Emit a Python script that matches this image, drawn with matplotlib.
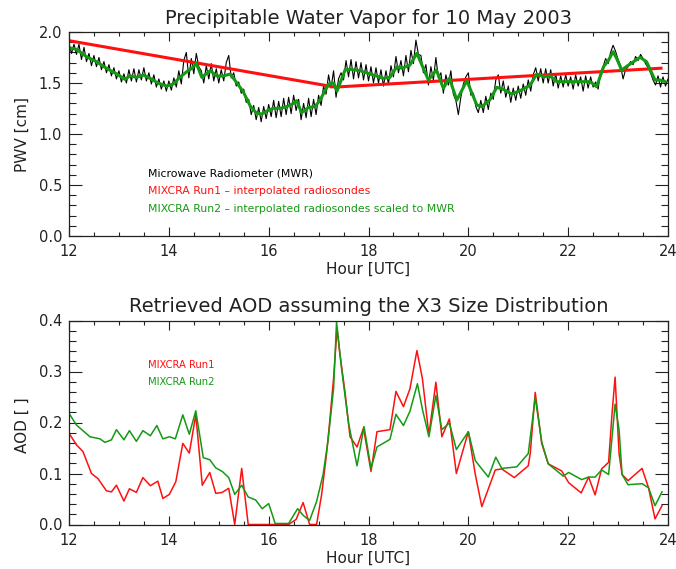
import numpy as np
import matplotlib
matplotlib.use("Agg")
import matplotlib.pyplot as plt
from matplotlib.ticker import MultipleLocator

# --- PWV panel data ---
mwr_start, mwr_step = 12.0, 0.05  # MWR samples every 3 minutes
mwr_pwv = [
    1.89, 1.79, 1.88, 1.78, 1.88, 1.73, 1.85, 1.71, 1.79, 1.67,
    1.77, 1.66, 1.75, 1.63, 1.71, 1.60, 1.68, 1.57, 1.65, 1.54,
    1.62, 1.51, 1.59, 1.50, 1.63, 1.52, 1.64, 1.51, 1.63, 1.53,
    1.65, 1.52, 1.60, 1.49, 1.58, 1.46, 1.54, 1.44, 1.52, 1.42,
    1.52, 1.43, 1.55, 1.46, 1.62, 1.49, 1.72, 1.80, 1.55, 1.74,
    1.59, 1.79, 1.66, 1.62, 1.50, 1.67, 1.54, 1.69, 1.52, 1.64,
    1.50, 1.63, 1.52, 1.70, 1.77, 1.55, 1.60, 1.47, 1.51, 1.40,
    1.44, 1.31, 1.34, 1.19, 1.28, 1.14, 1.26, 1.12, 1.27, 1.15,
    1.29, 1.17, 1.33, 1.16, 1.32, 1.17, 1.35, 1.19, 1.36, 1.20,
    1.38, 1.23, 1.34, 1.14, 1.30, 1.16, 1.35, 1.17, 1.34, 1.19,
    1.38, 1.28, 1.47, 1.39, 1.58, 1.45, 1.62, 1.36, 1.54, 1.60,
    1.53, 1.72, 1.56, 1.73, 1.54, 1.71, 1.55, 1.70, 1.53, 1.68,
    1.52, 1.66, 1.50, 1.65, 1.50, 1.63, 1.47, 1.62, 1.49, 1.67,
    1.56, 1.76, 1.60, 1.72, 1.57, 1.77, 1.61, 1.82, 1.69, 1.92,
    1.78, 1.77, 1.60, 1.68, 1.48, 1.66, 1.53, 1.75, 1.55, 1.60,
    1.40, 1.58, 1.48, 1.62, 1.39, 1.33, 1.19, 1.36, 1.49, 1.56,
    1.60, 1.38, 1.40, 1.27, 1.21, 1.33, 1.21, 1.37, 1.24, 1.40,
    1.34, 1.53, 1.58, 1.40, 1.52, 1.36, 1.47, 1.31, 1.45, 1.33,
    1.47, 1.35, 1.49, 1.38, 1.53, 1.42, 1.58, 1.65, 1.52, 1.64,
    1.50, 1.64, 1.50, 1.63, 1.47, 1.59, 1.45, 1.57, 1.46, 1.58,
    1.47, 1.56, 1.44, 1.58, 1.47, 1.56, 1.42, 1.57, 1.45, 1.56,
    1.46, 1.51, 1.44, 1.61, 1.66, 1.74, 1.69, 1.80, 1.87, 1.81,
    1.73, 1.67, 1.54, 1.63, 1.66, 1.71, 1.68, 1.76, 1.72, 1.78,
    1.74, 1.69, 1.65, 1.60, 1.53, 1.48, 1.57, 1.46, 1.56, 1.47,
    1.54,
]

run1_hours = [12.0, 17.33, 23.86]
run1_pwv = [1.915, 1.46, 1.645]

run2_hours = [12.0, 12.15, 12.35, 12.55, 12.75, 12.96, 13.12, 13.22, 13.36, 13.49,
              13.66, 13.79, 13.96, 14.09, 14.22, 14.36, 14.46, 14.55, 14.66, 14.83,
              14.96, 15.09, 15.23, 15.36, 15.49, 15.63, 15.76, 15.86, 15.96, 16.09,
              16.23, 16.36, 16.5, 16.56, 16.66, 16.8, 16.93, 17.03, 17.2, 17.3,
              17.37, 17.53, 17.63, 17.83, 18.03, 18.3, 18.43, 18.57, 18.67, 18.83,
              18.97, 19.07, 19.2, 19.36, 19.5, 19.62, 19.77, 19.97, 20.17, 20.27,
              20.43, 20.57, 20.7, 20.87, 21.04, 21.24, 21.37, 21.51, 21.64, 21.77,
              22.04, 22.31, 22.44, 22.57, 22.71, 22.81, 22.9, 22.97, 23.07, 23.21,
              23.44, 23.57, 23.74, 23.84, 23.94]
run2_pwv = [1.846, 1.83, 1.758, 1.709, 1.644, 1.588, 1.536, 1.569, 1.556, 1.578,
            1.536, 1.497, 1.471, 1.49, 1.556, 1.611, 1.644, 1.693, 1.556, 1.621,
            1.569, 1.569, 1.588, 1.503, 1.415, 1.275, 1.203, 1.196, 1.225, 1.252,
            1.252, 1.268, 1.301, 1.327, 1.209, 1.261, 1.268, 1.333, 1.49, 1.50,
            1.42, 1.627, 1.634, 1.621, 1.588, 1.546, 1.556, 1.66, 1.644, 1.676,
            1.791, 1.676, 1.529, 1.627, 1.448, 1.546, 1.333, 1.523, 1.284, 1.268,
            1.333, 1.458, 1.438, 1.392, 1.425, 1.48, 1.588, 1.562, 1.569, 1.513,
            1.513, 1.513, 1.513, 1.464, 1.66, 1.725, 1.807, 1.742, 1.627, 1.676,
            1.752, 1.709, 1.529, 1.529, 1.513]

# --- AOD panel data ---
aod1_hours = [12.0, 12.15, 12.28, 12.45, 12.58, 12.75, 12.85, 12.95, 13.1, 13.21,
              13.35, 13.48, 13.63, 13.78, 13.88, 14.01, 14.14, 14.28, 14.41, 14.54,
              14.67, 14.82, 14.94, 15.07, 15.2, 15.32, 15.46, 15.59, 15.74, 15.87,
              16.0, 16.13, 16.27, 16.4, 16.55, 16.69, 16.82, 16.96, 17.06, 17.16,
              17.22, 17.3, 17.37, 17.42, 17.53, 17.63, 17.77, 17.9, 18.05, 18.17,
              18.43, 18.55, 18.7, 18.83, 18.97, 19.08, 19.21, 19.35, 19.47, 19.62,
              19.76, 20.0, 20.14, 20.27, 20.54, 20.67, 20.92, 21.2, 21.24, 21.34,
              21.47, 21.6, 21.87, 22.01, 22.26, 22.41, 22.54, 22.67, 22.81, 22.88,
              22.94, 23.02, 23.08, 23.2, 23.48, 23.61, 23.74, 23.88]
aod1 = [0.179, 0.156, 0.143, 0.10, 0.09, 0.066, 0.064, 0.077, 0.046, 0.07,
        0.063, 0.092, 0.076, 0.085, 0.051, 0.059, 0.084, 0.159, 0.140, 0.215,
        0.077, 0.102, 0.061, 0.063, 0.071, 0.0, 0.11, 0.0, 0.0, 0.0,
        0.0, 0.0, 0.0, 0.0, 0.01, 0.043, 0.0, 0.0, 0.058, 0.139,
        0.199, 0.286, 0.385, 0.34, 0.259, 0.172, 0.152, 0.189, 0.104, 0.182,
        0.186, 0.261, 0.231, 0.266, 0.341, 0.286, 0.176, 0.279, 0.172, 0.207,
        0.10, 0.182, 0.098, 0.035, 0.107, 0.109, 0.092, 0.115, 0.139, 0.259,
        0.159, 0.119, 0.105, 0.082, 0.062, 0.093, 0.058, 0.109, 0.122, 0.219,
        0.289, 0.139, 0.098, 0.086, 0.11, 0.072, 0.011, 0.037]

aod2_hours = [12.0, 12.15, 12.42, 12.62, 12.72, 12.85, 12.95, 13.1, 13.21, 13.35,
              13.48, 13.63, 13.76, 13.88, 14.01, 14.13, 14.28, 14.41, 14.54, 14.69,
              14.82, 14.94, 15.07, 15.2, 15.32, 15.46, 15.59, 15.74, 15.87, 16.0,
              16.13, 16.27, 16.4, 16.58, 16.69, 16.82, 16.96, 17.09, 17.19, 17.3,
              17.36, 17.46, 17.6, 17.77, 17.91, 18.05, 18.17, 18.43, 18.55, 18.7,
              18.83, 18.98, 19.08, 19.21, 19.35, 19.47, 19.62, 19.76, 20.0, 20.14,
              20.4, 20.55, 20.67, 20.97, 21.2, 21.34, 21.47, 21.6, 21.9, 22.01,
              22.27, 22.41, 22.54, 22.67, 22.81, 22.88, 22.94, 23.02, 23.08, 23.2,
              23.48, 23.61, 23.74, 23.88]
aod2 = [0.218, 0.195, 0.172, 0.168, 0.161, 0.166, 0.186, 0.166, 0.184, 0.163,
        0.184, 0.174, 0.194, 0.168, 0.172, 0.168, 0.215, 0.177, 0.223, 0.131,
        0.127, 0.111, 0.104, 0.092, 0.059, 0.077, 0.054, 0.048, 0.031, 0.041,
        0.002, 0.002, 0.002, 0.031, 0.018, 0.008, 0.045, 0.098, 0.165, 0.266,
        0.397, 0.306, 0.199, 0.115, 0.192, 0.11, 0.152, 0.167, 0.216, 0.194,
        0.222, 0.276, 0.226, 0.172, 0.253, 0.186, 0.199, 0.147, 0.182, 0.125,
        0.093, 0.132, 0.110, 0.113, 0.139, 0.249, 0.162, 0.119, 0.095, 0.102,
        0.088, 0.093, 0.093, 0.107, 0.098, 0.172, 0.236, 0.186, 0.098, 0.078,
        0.080, 0.072, 0.037, 0.064]

RED = "#ff1010"
GREEN = "#139a13"
INK = "#222222"

mwr_hours = mwr_start + mwr_step * np.arange(len(mwr_pwv))

W, H = 676, 569
fig = plt.figure(figsize=(W / 100, H / 100), dpi=100)
ax1 = fig.add_axes([69 / W, 1 - 236 / H, 599 / W, 204 / H])
ax2 = fig.add_axes([69 / W, 1 - 524.5 / H, 599 / W, 204 / H])


def style_axis(ax, ymajor, yminor):
    ax.set_xlim(12, 24)
    ax.xaxis.set_major_locator(MultipleLocator(2))
    ax.xaxis.set_minor_locator(MultipleLocator(0.5))
    ax.yaxis.set_major_locator(MultipleLocator(ymajor))
    ax.yaxis.set_minor_locator(MultipleLocator(yminor))
    ax.tick_params(which="both", direction="in", top=True, right=True,
                   colors=INK, labelsize=10.5, width=0.8)
    ax.tick_params(axis="x", which="major", length=6.5, pad=6)
    ax.tick_params(axis="x", which="minor", length=3.2)
    ax.tick_params(axis="y", which="major", length=9.4, pad=5)
    ax.tick_params(axis="y", which="minor", length=5)
    for sp in ax.spines.values():
        sp.set_color(INK)
        sp.set_linewidth(0.9)
    ax.set_xlabel("Hour [UTC]", fontsize=11, color=INK, labelpad=2)


ax1.plot(mwr_hours, mwr_pwv, color="black", lw=0.8)
ax1.plot(run1_hours, run1_pwv, color=RED, lw=2.2)
ax1.plot(run2_hours, run2_pwv, color=GREEN, lw=2.2)
ax1.set_ylim(0, 2.0)
style_axis(ax1, 0.5, 0.1)
ax1.yaxis.set_major_formatter(matplotlib.ticker.FormatStrFormatter("%.1f"))
ax1.set_title("Precipitable Water Vapor for 10 May 2003", fontsize=14, color=INK, pad=6)

ax2.plot(aod1_hours, aod1, color=RED, lw=1.1)
ax2.plot(aod2_hours, aod2, color=GREEN, lw=1.1)
ax2.set_ylim(0, 0.4)
style_axis(ax2, 0.1, 0.02)
ax2.yaxis.set_major_formatter(matplotlib.ticker.FormatStrFormatter("%.1f"))
ax2.set_title("Retrieved AOD assuming the X3 Size Distribution", fontsize=14, color=INK, pad=6)

fig.text(22 / W, 1 - 134 / H, "PWV [cm]", rotation=90, ha="center", va="center", fontsize=11, color=INK)
fig.text(22 / W, 1 - 425 / H, "AOD [ ]", rotation=90, ha="center", va="center", fontsize=11, color=INK)

fig.text(148 / W, 1 - 174 / H, "Microwave Radiometer (MWR)", fontsize=7.8, color="black", va="center")
fig.text(148 / W, 1 - 191.5 / H, "MIXCRA Run1 \u2013 interpolated radiosondes", fontsize=7.8, color=RED, va="center")
fig.text(148 / W, 1 - 209 / H, "MIXCRA Run2 \u2013 interpolated radiosondes scaled to MWR", fontsize=7.8, color=GREEN, va="center")

fig.text(148 / W, 1 - 365 / H, "MIXCRA Run1", fontsize=7.2, color=RED, va="center")
fig.text(148 / W, 1 - 382 / H, "MIXCRA Run2", fontsize=7.2, color=GREEN, va="center")

fig.savefig("out.png", dpi=100)
